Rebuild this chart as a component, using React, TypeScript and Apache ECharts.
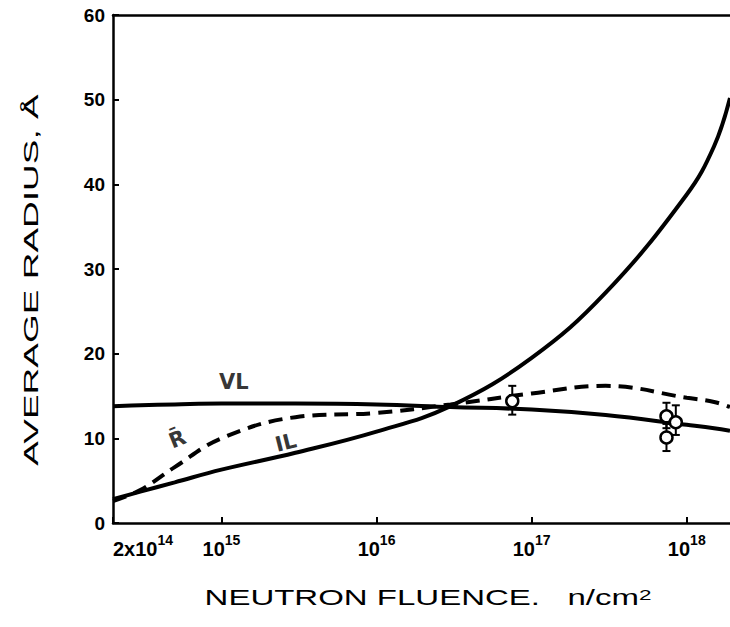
import React, { useEffect, useRef } from "react";
import * as echarts from "echarts";

// Neutron fluence (n/cm^2) sample positions along the curves
const fluence = [2e14, 3e14, 5e14, 1e15, 3e15, 1e16, 3e16, 1e17, 3e17, 1e18, 1.5e18, 1.9e18];
// Interstitial loops (IL), solid rising curve
const ilRadius = [2.8, 3.7, 4.8, 6.3, 8.3, 10.8, 13.8, 19.5, 27.2, 38.8, 44.5, 50.2];
// Vacancy loops (VL), solid near-flat curve
const vlRadius = [13.8, 13.9, 14.0, 14.1, 14.1, 14.0, 13.7, 13.4, 12.75, 11.6, 11.2, 10.9];
// Mean radius R-bar, dashed curve
const rBarRadius = [2.6, 3.9, 6.6, 10.0, 12.5, 13.0, 14.0, 15.3, 16.2, 14.8, 14.3, 13.7];

// Experimental points with error bars
const expFluence = [7.5e16, 7.4e17, 8.5e17, 7.4e17];
const expRadius = [14.4, 12.6, 11.9, 10.1];
const expLow = [12.8, 11.2, 10.4, 8.5];
const expHigh = [16.2, 14.2, 13.9, 11.7];

// Curve annotations
const labelNames = ["VL", "R\u0304", "IL"];
const labelFluence = [1.2e15, 5.2e14, 2.6e15];
const labelRadius = [16.6, 9.9, 9.5];
const labelRotate = [0, 22, 14];

const yTicks = [0, 10, 20, 30, 40, 50, 60];

const FONT = '"Liberation Sans", Arial, sans-serif';
const WIDE = '"DejaVu Sans", "Liberation Sans", sans-serif';

export default function App() {
  const ref = useRef<HTMLDivElement>(null);
  useEffect(() => {
    if (!ref.current) return;
    const chart = echarts.init(ref.current, undefined, { renderer: "svg" });
    const zip = (ys: number[]) => fluence.map((x, i) => [x, ys[i]]);
    const option: any = {
      animation: false,
      backgroundColor: "#fff",
      grid: { left: 113, right: 0, top: 15, bottom: 104, containLabel: false },
      xAxis: [
        {
          type: "log",
          logBase: 10,
          min: 2e14,
          max: 1.9e18,
          axisLine: { show: true, lineStyle: { color: "#000", width: 2.5 } },
          axisTick: { show: true, inside: true, length: 6, lineStyle: { color: "#000", width: 2 } },
          splitLine: { show: false },
          minorTick: { show: false },
          axisLabel: {
            show: true,
            color: "#000",
            fontFamily: FONT,
            fontWeight: "bold",
            fontSize: 20,
            lineHeight: 32,
            margin: 10,
            alignMinLabel: "left",
            showMinLabel: true,
            showMaxLabel: false,
            formatter: (v: number) => {
              if (Math.abs(v - 2e14) / 2e14 < 0.01) return "2x10{sup|14}";
              const e = Math.log10(v);
              if (Math.abs(e - Math.round(e)) < 1e-6) return "10{sup|" + Math.round(e) + "}";
              return "";
            },
            rich: {
              sup: { fontSize: 14, fontWeight: "bold", fontFamily: FONT, color: "#000", verticalAlign: "top", lineHeight: 16 },
            },
          },
        },
        {
          type: "log",
          logBase: 10,
          min: 2e14,
          max: 1.9e18,
          position: "top",
          axisLine: { show: true, lineStyle: { color: "#000", width: 2.5 } },
          axisTick: { show: false },
          axisLabel: { show: false },
          splitLine: { show: false },
        },
      ],
      yAxis: {
        type: "value",
        min: yTicks[0],
        max: yTicks[yTicks.length - 1],
        interval: 10,
        axisLine: { show: true, lineStyle: { color: "#000", width: 2.5 } },
        axisTick: { show: true, inside: true, length: 6, lineStyle: { color: "#000", width: 2 } },
        splitLine: { show: false },
        axisLabel: { color: "#000", fontFamily: FONT, fontWeight: "bold", fontSize: 19, margin: 8 },
      },
      graphic: [
        {
          type: "text",
          x: 31,
          y: 280,
          rotation: Math.PI / 2,
          scaleX: 1.85,
          style: {
            text: "AVERAGE RADIUS, Å",
            fontFamily: FONT,
            fontSize: 20,
            fill: "#000",
            align: "center",
            verticalAlign: "middle",
          },
        },
        {
          type: "text",
          x: 428,
          y: 598,
          scaleX: 1.5,
          style: {
            text: "NEUTRON FLUENCE.   n/cm{sup|2}",
            fontFamily: FONT,
            fontSize: 22,
            fill: "#000",
            align: "center",
            verticalAlign: "middle",
            rich: {
              sup: { fontSize: 15, fontFamily: FONT, fill: "#000", verticalAlign: "top", lineHeight: 14 },
            },
          },
        },
      ],
      series: [
        {
          name: "IL",
          type: "line",
          data: zip(ilRadius),
          smooth: 0.4,
          symbol: "none",
          lineStyle: { color: "#000", width: 4 },
          z: 3,
        },
        {
          name: "VL",
          type: "line",
          data: zip(vlRadius),
          smooth: 0.4,
          symbol: "none",
          lineStyle: { color: "#000", width: 4 },
          z: 3,
        },
        {
          name: "R",
          type: "line",
          data: zip(rBarRadius),
          smooth: 0.4,
          symbol: "none",
          lineStyle: { color: "#000", width: 4, type: [14, 8] },
          z: 3,
        },
        {
          name: "errors",
          type: "custom",
          data: expFluence.map((x, i) => [x, expLow[i], expHigh[i]]),
          renderItem: (params: any, api: any) => {
            const x = api.value(0);
            const lo = api.coord([x, api.value(1)]);
            const hi = api.coord([x, api.value(2)]);
            const cap = 4;
            const st = { stroke: "#000", lineWidth: 2 };
            return {
              type: "group",
              children: [
                { type: "line", shape: { x1: lo[0], y1: lo[1], x2: hi[0], y2: hi[1] }, style: st },
                { type: "line", shape: { x1: lo[0] - cap, y1: lo[1], x2: lo[0] + cap, y2: lo[1] }, style: st },
                { type: "line", shape: { x1: hi[0] - cap, y1: hi[1], x2: hi[0] + cap, y2: hi[1] }, style: st },
              ],
            };
          },
          z: 4,
        },
        {
          name: "experiment",
          type: "scatter",
          data: expFluence.map((x, i) => [x, expRadius[i]]),
          symbol: "circle",
          symbolSize: 12,
          itemStyle: { color: "#fff", borderColor: "#000", borderWidth: 2.5, opacity: 1 },
          z: 5,
        },
        {
          name: "labels",
          type: "scatter",
          data: labelNames.map((n, i) => ({
            name: n,
            value: [labelFluence[i], labelRadius[i]],
            label: { rotate: labelRotate[i] },
          })),
          symbolSize: 0,
          silent: true,
          label: {
            show: true,
            position: "inside",
            formatter: (p: any) => p.name,
            color: "#000",
            fontFamily: WIDE,
            fontWeight: "bold",
            fontSize: 21,
          },
          z: 6,
        },
      ],
    };
    chart.setOption(option);
    return () => chart.dispose();
  }, []);
  return (
    <div
      ref={ref}
      style={{ position: "absolute", left: 0, top: 0, width: 730, height: 627, background: "#fff" }}
    />
  );
}
